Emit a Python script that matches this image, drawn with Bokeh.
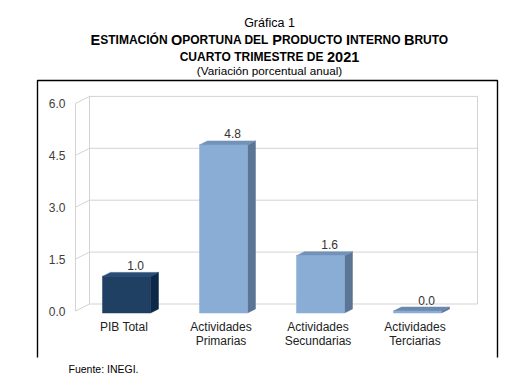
from bokeh.plotting import figure
from bokeh.models import Range1d
from bokeh.core.properties import value
from bokeh.embed import file_html
from bokeh.resources import INLINE

# ---------------- data ----------------
categories = ["PIB Total", "Actividades\nPrimarias", "Actividades\nSecundarias", "Actividades\nTerciarias"]
values = [1.0, 4.8, 1.6, 0.0]
value_labels = ["1.0", "4.8", "1.6", "0.0"]
y_ticks = [0.0, 1.5, 3.0, 4.5, 6.0]
y_tick_labels = ["0.0", "1.5", "3.0", "4.5", "6.0"]
front_colors = ["#1F3F63", "#8AADD5", "#8AADD5", "#8AADD5"]
top_colors = ["#284D77", "#7392B9", "#7392B9", "#6C88AD"]
side_colors = ["#0E2947", "#5B7595", "#5B7595", "#5B7595"]
source_note = "Fuente: INEGI."

# ---------------- geometry (page pixels -> data) ----------------
W, H, M = 505, 379, 0
PX0, UX = 75.0, 97.0      # page x of x=-0.5, px per category
PY0, UY = 310.5, 34.6     # page y of y=0, px per unit


def X(px):
    return (px - PX0) / UX - 0.5


def Y(py):
    return (PY0 - py) / UY


p = figure(width=W, height=H, x_range=Range1d(X(M), X(M + W)), y_range=Range1d(Y(M + H), Y(M)),
           output_backend="svg", toolbar_location=None, min_border=0,
           x_axis_location=None, y_axis_location=None)
p.grid.visible = False
p.outline_line_color = None
p.background_fill_color = "white"
p.border_fill_color = "white"

FONT = value("Liberation Sans")
GRID = "#D3D3D3"

# outer frame (open at bottom)
p.line([X(37), X(37), X(497), X(497)], [Y(357), Y(80), Y(80), Y(357)],
       line_color="black", line_width=1.4)

# ---------------- 3D walls ----------------
dxw, dyw = 14 / UX, 7 / UY
xl, xr = -0.5, len(categories) - 0.5
ymax = y_ticks[-1]
# back gridlines
p.multi_line([[xl + dxw, xr + dxw] for t in y_ticks], [[t + dyw, t + dyw] for t in y_ticks],
             line_color=GRID, line_width=1)
# left wall diagonals
p.multi_line([[xl, xl + dxw] for t in y_ticks], [[t, t + dyw] for t in y_ticks],
             line_color=GRID, line_width=1)
# verticals
p.multi_line([[xl, xl], [xl + dxw, xl + dxw], [xr + dxw, xr + dxw]],
             [[0, ymax], [dyw, ymax + dyw], [dyw, ymax + dyw]],
             line_color=GRID, line_width=1)

# ---------------- bars ----------------
L, R = -0.222, 0.273
ddx, ddy = 8 / UX, 4 / UY
base = -2 / UY
idx = list(range(len(categories)))
tops_x = [[i + L, i + R, i + R + ddx, i + L + ddx] for i in idx]
tops_y = [[max(v, base), max(v, base), max(v, base) + ddy, max(v, base) + ddy] for v in values]
sides_x = [[i + R, i + R, i + R + ddx, i + R + ddx] for i in idx]
sides_y = [[base, v, v + ddy, base + ddy] for v in values]
p.patches(sides_x, sides_y, fill_color=side_colors, line_color=side_colors, line_width=0.5)
p.patches(tops_x, tops_y, fill_color=top_colors, line_color=top_colors, line_width=0.5)
p.quad(left=[i + L for i in idx], right=[i + R for i in idx], bottom=[base] * len(idx), top=values,
       fill_color=front_colors, line_color=front_colors, line_width=0.5)

# value labels
p.text(x=[i + 0.12 for i in idx], y=[v + ddy + 7 / UY for v in values], text=value_labels,
       text_font=FONT, text_font_size=value("12px"), text_color="#333333",
       text_align="center", text_baseline="alphabetic")

# y tick labels
p.text(x=[X(65)] * len(y_ticks), y=y_ticks, text=y_tick_labels,
       text_font=FONT, text_font_size=value("12px"), text_color="#404040",
       text_align="right", text_baseline="middle")

# category labels
p.text(x=idx, y=[Y(319)] * len(idx), text=categories,
       text_font=FONT, text_font_size=value("12px"), text_color="#222222",
       text_align="center", text_baseline="top", text_line_height=1.05)

# ---------------- titles ----------------
CX = 269.0
p.text(x=[X(CX)], y=[Y(22)], text=["Gráfica 1"], text_font=FONT, text_font_size=value("12.5px"),
       text_color="black", text_align="center", text_baseline="alphabetic")
p.text(x=[X(CX)], y=[Y(70)], text=["(Variación porcentual anual)"], text_font=FONT,
       text_font_size=value("11.7px"), text_color="black", text_align="center", text_baseline="alphabetic")

BOLD_W = {"A": 722, "B": 722, "C": 722, "D": 722, "E": 667, "F": 611, "G": 778, "H": 722, "I": 278,
          "J": 556, "K": 722, "L": 611, "M": 833, "N": 722, "O": 778, "P": 667, "Q": 778, "R": 722,
          "S": 667, "T": 611, "U": 722, "V": 667, "W": 944, "X": 667, "Y": 667, "Z": 611, " ": 278,
          "Ó": 778}
BIG, SMALL = 14.5, 12.0


def text_w(s, size):
    return sum(BOLD_W.get(c, 556) for c in s) * size / 1000.0


def small_caps_line(pieces, baseline):
    total = sum(text_w(s, sz) for s, sz in pieces)
    x = CX - total / 2
    for s, sz in pieces:
        p.text(x=[X(x)], y=[Y(baseline)], text=[s], text_font=FONT, text_font_size=value(f"{sz}px"),
               text_font_style="bold", text_color="black", text_align="left", text_baseline="alphabetic")
        x += text_w(s, sz)


small_caps_line([("E", BIG), ("STIMACIÓN ", SMALL), ("O", BIG), ("PORTUNA DEL ", SMALL), ("P", BIG),
                 ("RODUCTO ", SMALL), ("I", BIG), ("NTERNO ", SMALL), ("B", BIG), ("RUTO", SMALL)], 39.0)
small_caps_line([("CUARTO TRIMESTRE DE ", SMALL), ("2021", BIG)], 56.0)

# source
p.text(x=[X(68)], y=[Y(368)], text=[source_note], text_font=FONT, text_font_size=value("10.5px"),
       text_color="black", text_align="left", text_baseline="alphabetic")

open("out.html", "w").write(file_html(p, INLINE))
